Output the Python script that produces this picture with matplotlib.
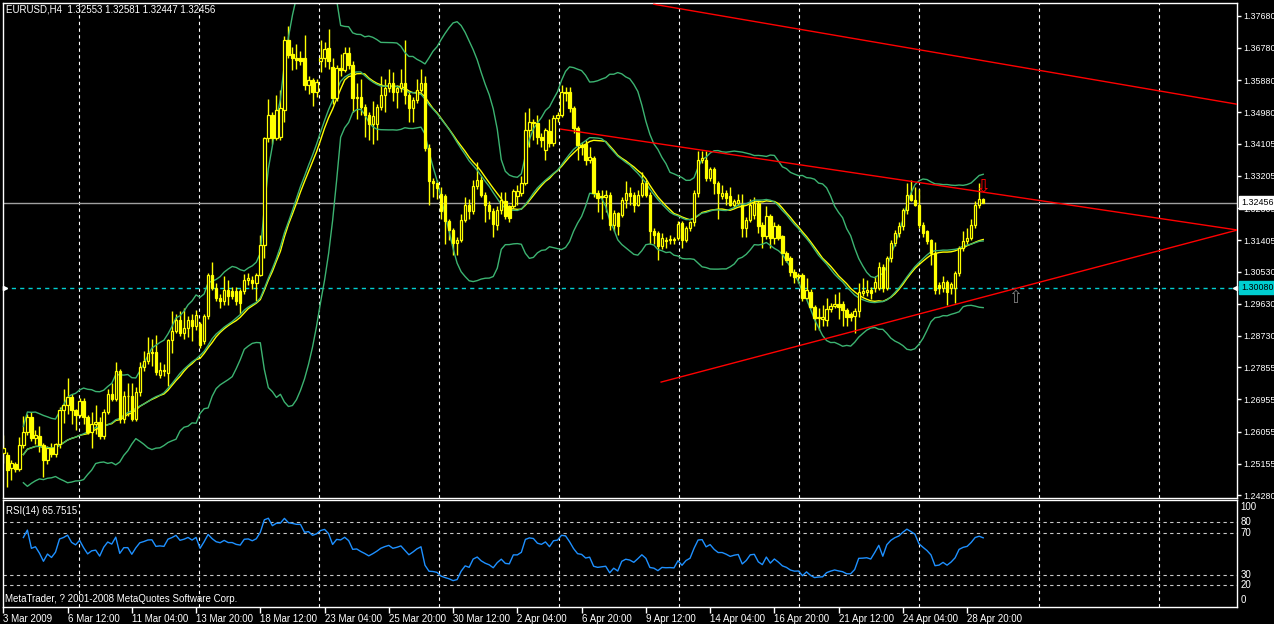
import numpy as np
import pandas as pd
import matplotlib
matplotlib.use("Agg")
import matplotlib.pyplot as plt
from matplotlib.transforms import blended_transform_factory

plt.rcParams['font.family'] = ['Liberation Sans', 'DejaVu Sans']

# EURUSD H4, 3 Mar 2009 20:00 .. 29 Apr 2009
opens = [
    1.2545, 1.2540, 1.2503, 1.2515, 1.2500, 1.2568, 1.2605, 1.2647, 1.2587, 1.2592,
    1.2568, 1.2526, 1.2561, 1.2542, 1.2570, 1.2666, 1.2680, 1.2703, 1.2666, 1.2652,
    1.2690, 1.2647, 1.2605, 1.2628, 1.2633, 1.2592, 1.2661, 1.2712, 1.2698, 1.2775,
    1.2640, 1.2705, 1.2706, 1.2640, 1.2715, 1.2785, 1.2803, 1.2826, 1.2829, 1.2764,
    1.2778, 1.2770, 1.2862, 1.2886, 1.2918, 1.2881, 1.2895, 1.2918, 1.2900, 1.2905,
    1.2860, 1.2928, 1.3044, 1.3007, 1.2979, 1.2970, 1.3002, 1.2998, 1.2998, 1.2998,
    1.2998, 1.3030, 1.3030, 1.3020, 1.3044, 1.3128, 1.3426, 1.3491, 1.3426, 1.3430,
    1.3505, 1.3700, 1.3660, 1.3651, 1.3651, 1.3650, 1.3573, 1.3587, 1.3554, 1.3640,
    1.3650, 1.3677, 1.3626, 1.3537, 1.3622, 1.3617, 1.3663, 1.3631, 1.3537, 1.3542,
    1.3514, 1.3491, 1.3464, 1.3464, 1.3514, 1.3547, 1.3566, 1.3580, 1.3556, 1.3566,
    1.3580, 1.3547, 1.3510, 1.3533, 1.3561, 1.3580, 1.3399, 1.3306, 1.3301, 1.3270,
    1.3263, 1.3194, 1.3170, 1.3133, 1.3140, 1.3198, 1.3240, 1.3221, 1.3291, 1.3310,
    1.3268, 1.3240, 1.3221, 1.3184, 1.3225, 1.3249, 1.3235, 1.3235, 1.3263, 1.3272,
    1.3300, 1.3449, 1.3472, 1.3467, 1.3430, 1.3393, 1.3445, 1.3412, 1.3482, 1.3490,
    1.3556, 1.3556, 1.3510, 1.3454, 1.3407, 1.3410, 1.3365, 1.3370, 1.3272, 1.3265,
    1.3262, 1.3268, 1.3184, 1.3216, 1.3212, 1.3254, 1.3272, 1.3268, 1.3240, 1.3268,
    1.3300, 1.3268, 1.3165, 1.3160, 1.3123, 1.3138, 1.3140, 1.3143, 1.3146, 1.3188,
    1.3142, 1.3174, 1.3190, 1.3272, 1.3365, 1.3365, 1.3314, 1.3339, 1.3300, 1.3263,
    1.3272, 1.3263, 1.3240, 1.3245, 1.3240, 1.3174, 1.3198, 1.3212, 1.3244, 1.3184,
    1.3151, 1.3207, 1.3146, 1.3179, 1.3151, 1.3104, 1.3090, 1.3053, 1.3042, 1.3042,
    1.2979, 1.2997, 1.2955, 1.2922, 1.2920, 1.2918, 1.2948, 1.2956, 1.2962, 1.2962,
    1.2946, 1.2935, 1.2929, 1.2944, 1.2993, 1.2997, 1.3002, 1.3006, 1.3006, 1.3067,
    1.3006, 1.3090, 1.3132, 1.3160, 1.3179, 1.3225, 1.3267, 1.3254, 1.3240, 1.3184,
    1.3165, 1.3140, 1.3104, 1.3016, 1.3008, 1.3025, 1.3006, 1.3006, 1.3048, 1.3118,
    1.3137, 1.3146, 1.3184, 1.3240, 1.32553,
]
highs = [
    1.2596, 1.2548, 1.2525, 1.2520, 1.2590, 1.2650, 1.2655, 1.2660, 1.2610, 1.2620,
    1.2575, 1.2565, 1.2575, 1.2575, 1.2675, 1.2725, 1.2755, 1.2710, 1.2670, 1.2700,
    1.2700, 1.2652, 1.2660, 1.2680, 1.2645, 1.2670, 1.2725, 1.2740, 1.2800, 1.2780,
    1.2720, 1.2740, 1.2740, 1.2730, 1.2800, 1.2830, 1.2870, 1.2865, 1.2875, 1.2800,
    1.2795, 1.2865, 1.2942, 1.2935, 1.2942, 1.2950, 1.2930, 1.2935, 1.2945, 1.2912,
    1.2935, 1.3050, 1.3080, 1.3020, 1.2990, 1.3040, 1.3030, 1.3010, 1.3010, 1.3005,
    1.3045, 1.3050, 1.3040, 1.3050, 1.3155, 1.3430, 1.3535, 1.3500, 1.3545, 1.3560,
    1.3712, 1.3740, 1.3680, 1.3690, 1.3670, 1.3715, 1.3600, 1.3595, 1.3590, 1.3700,
    1.3695, 1.3730, 1.3650, 1.3630, 1.3660, 1.3680, 1.3680, 1.3640, 1.3580, 1.3590,
    1.3520, 1.3500, 1.3530, 1.3520, 1.3600, 1.3590, 1.3620, 1.3610, 1.3575, 1.3620,
    1.3700, 1.3555, 1.3540, 1.3590, 1.3620, 1.3600, 1.3410, 1.3315, 1.3310, 1.3290,
    1.3270, 1.3200, 1.3175, 1.3150, 1.3215, 1.3260, 1.3255, 1.3310, 1.3360, 1.3320,
    1.3275, 1.3250, 1.3230, 1.3235, 1.3275, 1.3275, 1.3240, 1.3283, 1.3295, 1.3320,
    1.3500, 1.3510, 1.3480, 1.3490, 1.3440, 1.3455, 1.3480, 1.3490, 1.3500, 1.3575,
    1.3570, 1.3570, 1.3515, 1.3460, 1.3415, 1.3420, 1.3400, 1.3375, 1.3280, 1.3280,
    1.3280, 1.3275, 1.3225, 1.3220, 1.3262, 1.3305, 1.3290, 1.3275, 1.3280, 1.3330,
    1.3310, 1.3275, 1.3175, 1.3165, 1.3160, 1.3150, 1.3155, 1.3150, 1.3195, 1.3195,
    1.3180, 1.3195, 1.3280, 1.3390, 1.3390, 1.3390, 1.3345, 1.3345, 1.3305, 1.3295,
    1.3280, 1.3290, 1.3255, 1.3270, 1.3270, 1.3205, 1.3255, 1.3260, 1.3250, 1.3190,
    1.3235, 1.3215, 1.3190, 1.3185, 1.3155, 1.3110, 1.3095, 1.3060, 1.3050, 1.3048,
    1.3035, 1.3005, 1.2960, 1.2950, 1.2960, 1.2980, 1.2965, 1.2990, 1.2995, 1.2970,
    1.2950, 1.2940, 1.2950, 1.3020, 1.3035, 1.3030, 1.3010, 1.3040, 1.3080, 1.3075,
    1.3095, 1.3140, 1.3170, 1.3190, 1.3230, 1.3300, 1.3310, 1.3290, 1.3285, 1.3190,
    1.3170, 1.3145, 1.3135, 1.3025, 1.3040, 1.3030, 1.3025, 1.3055, 1.3125, 1.3165,
    1.3175, 1.3200, 1.3250, 1.3300, 1.32581,
]
lows = [
    1.2517, 1.2452, 1.2470, 1.2494, 1.2495, 1.2560, 1.2595, 1.2580, 1.2570, 1.2548,
    1.2480, 1.2515, 1.2535, 1.2535, 1.2560, 1.2630, 1.2655, 1.2628, 1.2610, 1.2645,
    1.2628, 1.2598, 1.2560, 1.2600, 1.2585, 1.2585, 1.2655, 1.2690, 1.2690, 1.2630,
    1.2630, 1.2650, 1.2635, 1.2635, 1.2705, 1.2775, 1.2795, 1.2790, 1.2765, 1.2755,
    1.2760, 1.2732, 1.2825, 1.2880, 1.2872, 1.2865, 1.2870, 1.2860, 1.2890, 1.2840,
    1.2850, 1.2920, 1.3000, 1.2970, 1.2950, 1.2960, 1.2960, 1.2975, 1.2960, 1.2935,
    1.2990, 1.3015, 1.3005, 1.2970, 1.3040, 1.3090, 1.3415, 1.3410, 1.3420, 1.3420,
    1.3470, 1.3650, 1.3615, 1.3620, 1.3630, 1.3560, 1.3550, 1.3515, 1.3540, 1.3610,
    1.3625, 1.3620, 1.3520, 1.3530, 1.3600, 1.3610, 1.3620, 1.3500, 1.3480, 1.3490,
    1.3430, 1.3420, 1.3410, 1.3420, 1.3505, 1.3500, 1.3555, 1.3530, 1.3510, 1.3555,
    1.3520, 1.3470, 1.3470, 1.3525, 1.3555, 1.3390, 1.3240, 1.3260, 1.3255, 1.3200,
    1.3130, 1.3140, 1.3100, 1.3100, 1.3135, 1.3190, 1.3200, 1.3215, 1.3285, 1.3260,
    1.3190, 1.3200, 1.3150, 1.3170, 1.3215, 1.3200, 1.3190, 1.3230, 1.3240, 1.3265,
    1.3295, 1.3400, 1.3420, 1.3410, 1.3400, 1.3365, 1.3400, 1.3405, 1.3470, 1.3485,
    1.3530, 1.3500, 1.3440, 1.3365, 1.3380, 1.3350, 1.3355, 1.3260, 1.3220, 1.3200,
    1.3220, 1.3170, 1.3165, 1.3155, 1.3205, 1.3230, 1.3240, 1.3220, 1.3235, 1.3260,
    1.3260, 1.3130, 1.3130, 1.3086, 1.3115, 1.3120, 1.3130, 1.3130, 1.3140, 1.3120,
    1.3135, 1.3165, 1.3180, 1.3260, 1.3355, 1.3305, 1.3305, 1.3270, 1.3200, 1.3255,
    1.3240, 1.3235, 1.3230, 1.3240, 1.3150, 1.3150, 1.3190, 1.3200, 1.3160, 1.3120,
    1.3145, 1.3120, 1.3130, 1.3140, 1.3070, 1.3080, 1.3040, 1.3020, 1.3020, 1.2970,
    1.2975, 1.2950, 1.2890, 1.2890, 1.2900, 1.2900, 1.2940, 1.2950, 1.2920, 1.2900,
    1.2900, 1.2915, 1.2880, 1.2925, 1.2985, 1.2985, 1.2975, 1.2995, 1.3000, 1.2995,
    1.3000, 1.3080, 1.3125, 1.3150, 1.3170, 1.3215, 1.3250, 1.3235, 1.3175, 1.3150,
    1.3130, 1.3070, 1.2990, 1.2990, 1.2995, 1.2960, 1.2990, 1.2965, 1.3040, 1.3110,
    1.3130, 1.3140, 1.3175, 1.3230, 1.32447,
]
closes = [
    1.2560, 1.2498, 1.2517, 1.2500, 1.2568, 1.2605, 1.2647, 1.2587, 1.2595, 1.2568,
    1.2526, 1.2561, 1.2542, 1.2570, 1.2666, 1.2680, 1.2703, 1.2666, 1.2652, 1.2690,
    1.2647, 1.2605, 1.2628, 1.2633, 1.2592, 1.2661, 1.2712, 1.2698, 1.2775, 1.2640,
    1.2705, 1.2706, 1.2640, 1.2715, 1.2785, 1.2803, 1.2826, 1.2829, 1.2772, 1.2778,
    1.2774, 1.2862, 1.2886, 1.2918, 1.2881, 1.2895, 1.2918, 1.2900, 1.2932, 1.2849,
    1.2928, 1.3044, 1.3007, 1.2979, 1.2970, 1.3002, 1.2984, 1.2984, 1.2970, 1.2965,
    1.3030, 1.3034, 1.3022, 1.3044, 1.3128, 1.3426, 1.3491, 1.3426, 1.3505, 1.3510,
    1.3700, 1.3658, 1.3651, 1.3643, 1.3642, 1.3573, 1.3587, 1.3554, 1.3583, 1.3650,
    1.3675, 1.3640, 1.3537, 1.3622, 1.3617, 1.3663, 1.3631, 1.3537, 1.3542, 1.3514,
    1.3491, 1.3464, 1.3487, 1.3514, 1.3547, 1.3566, 1.3580, 1.3556, 1.3566, 1.3580,
    1.3547, 1.3510, 1.3533, 1.3561, 1.3580, 1.3399, 1.3306, 1.3301, 1.3287, 1.3222,
    1.3194, 1.3170, 1.3133, 1.3140, 1.3198, 1.3240, 1.3221, 1.3291, 1.3310, 1.3268,
    1.3240, 1.3221, 1.3185, 1.3225, 1.3253, 1.3207, 1.3202, 1.3277, 1.3277, 1.3300,
    1.3449, 1.3472, 1.3467, 1.3430, 1.3421, 1.3449, 1.3412, 1.3482, 1.3490, 1.3556,
    1.3552, 1.3510, 1.3454, 1.3407, 1.3400, 1.3365, 1.3372, 1.3272, 1.3258, 1.3262,
    1.3266, 1.3184, 1.3216, 1.3179, 1.3254, 1.3272, 1.3263, 1.3240, 1.3268, 1.3300,
    1.3268, 1.3165, 1.3156, 1.3123, 1.3146, 1.3142, 1.3143, 1.3140, 1.3185, 1.3142,
    1.3174, 1.3190, 1.3272, 1.3365, 1.3370, 1.3314, 1.3339, 1.3300, 1.3272, 1.3272,
    1.3258, 1.3240, 1.3249, 1.3254, 1.3174, 1.3198, 1.3240, 1.3244, 1.3179, 1.3151,
    1.3207, 1.3146, 1.3179, 1.3146, 1.3104, 1.3086, 1.3053, 1.3039, 1.3040, 1.2979,
    1.3002, 1.2955, 1.2922, 1.2925, 1.2926, 1.2948, 1.2956, 1.2962, 1.2953, 1.2946,
    1.2927, 1.2927, 1.2944, 1.2997, 1.2998, 1.3000, 1.2993, 1.3025, 1.3067, 1.3006,
    1.3090, 1.3132, 1.3160, 1.3179, 1.3225, 1.3267, 1.3254, 1.3240, 1.3184, 1.3160,
    1.3137, 1.3104, 1.3002, 1.3006, 1.3025, 1.2997, 1.3018, 1.3048, 1.3118, 1.3137,
    1.3146, 1.3184, 1.3240, 1.3255, 1.32456,
]

# time axis labels, one every 16 bars
time_labels = ['3 Mar 2009', '6 Mar 12:00', '11 Mar 04:00', '13 Mar 20:00', '18 Mar 12:00',
               '23 Mar 04:00', '25 Mar 20:00', '30 Mar 12:00', '2 Apr 04:00', '6 Apr 20:00',
               '9 Apr 12:00', '14 Apr 04:00', '16 Apr 20:00', '21 Apr 12:00', '24 Apr 04:00',
               '28 Apr 20:00']
price_ticks = [1.37680, 1.36780, 1.35880, 1.34980, 1.34105, 1.33205, 1.32305, 1.31405,
               1.30530, 1.29630, 1.28730, 1.27855, 1.26955, 1.26055, 1.25155, 1.24280]
rsi_levels = [20, 30, 70, 80]

# user objects: trend lines (bar index, price), horizontal line, arrows
trend_lines = [
    [(162.0, 1.3800), (307.5, 1.3520)],
    [(138.8, 1.3451), (307.3, 1.3169)],
    [(163.8, 1.2744), (307.3, 1.3169)],
]
hline_price = 1.30080
sell_arrow = (244, 1.3290)
buy_arrow = (252, 1.2979)

W, H = 1274, 624
BG = 'black'
YEL = '#FFFF00'
GRN = '#3CB371'
FS = 7
FS_SCALE = 6.4

df = pd.DataFrame({'o': opens, 'h': highs, 'l': lows, 'c': closes})
idx = np.arange(len(df))
bid = df['c'].iloc[-1]

mid = df['c'].rolling(20, min_periods=6).mean()
sd = df['c'].rolling(20, min_periods=6).std(ddof=0)
upper = mid + 2 * sd
lower = mid - 2 * sd
ma = df['c'].rolling(21, min_periods=6).mean()

delta = df['c'].diff()
gain = delta.clip(lower=0).ewm(alpha=1 / 14, adjust=True, min_periods=5).mean()
loss = (-delta.clip(upper=0)).ewm(alpha=1 / 14, adjust=True, min_periods=5).mean()
rsi = 100 - 100 / (1 + gain / loss)

fig = plt.figure(figsize=(W / 100, H / 100), dpi=100, facecolor=BG)


def fx(px):
    return px / W


def fy(py):
    return 1 - py / H


ax = fig.add_axes([fx(2.5), fy(497.5), fx(1237 - 2.5), (497.5 - 2.5) / H], facecolor=BG)
ax2 = fig.add_axes([fx(2.5), fy(607), fx(1237 - 2.5), (607 - 500) / H], facecolor=BG)

x0, x1 = (2.5 - 3.3) / 4.016, (1237 - 3.3) / 4.016
for a in (ax, ax2):
    a.set_xlim(x0, x1)
    for s in a.spines.values():
        s.set_color('white')
        s.set_linewidth(1)

# price scale: y pixel -> price
ax.set_ylim(1.37680 - (497.5 - 15.7) * 0.0002795, 1.37680 - (2.5 - 15.7) * 0.0002795)

# grid (vertical dashed lines every 120 px)
grid_x = (np.arange(79.3, 1237, 120) - 3.3) / 4.016
for a in (ax, ax2):
    for g in grid_x:
        a.axvline(g, color='white', lw=0.8, ls=(0, (3, 3)), zorder=0.5)

# candles
bull = df['c'] >= df['o']
ax.vlines(idx, df['l'], df['h'], color=YEL, lw=1, zorder=2)
body_lo = np.minimum(df['o'], df['c'])
body_h = np.maximum(np.abs(df['c'] - df['o']), 0.00004)
ax.bar(idx[bull], body_h[bull], bottom=body_lo[bull], width=0.6,
       facecolor=BG, edgecolor=YEL, lw=0.9, zorder=3)
ax.bar(idx[~bull], body_h[~bull], bottom=body_lo[~bull], width=0.6,
       facecolor=YEL, edgecolor=YEL, lw=0.9, zorder=3)

# indicators
ax.plot(idx, upper, color=GRN, lw=1, zorder=2.5)
ax.plot(idx, lower, color=GRN, lw=1, zorder=2.5)
ax.plot(idx, ma, color=YEL, lw=1, zorder=2.4)
ax.plot(idx, mid, color=GRN, lw=1, zorder=2.5)

# trend lines
for (xa, pa), (xb, pb) in trend_lines:
    ax.plot([xa, xb], [pa, pb], color='red', lw=1, zorder=4)

ax.axhline(bid, color='#A0A0A0', lw=1, zorder=1)
ax.axhline(hline_price, color='#00CED1', lw=1, ls=(0, (3, 3)), zorder=1)
ax.plot([0.3], [hline_price], marker='>', ms=3, color='white', zorder=5, clip_on=False)
ax.plot([x1 - 0.6], [hline_price], marker='<', ms=3, color='white', zorder=5, clip_on=False)

ax.text(sell_arrow[0], sell_arrow[1], '\u21e9', color='red', fontsize=13, family='DejaVu Sans',
        ha='center', va='center', zorder=6)
ax.text(buy_arrow[0], buy_arrow[1], '\u21e7', color='#808080', fontsize=12, family='DejaVu Sans',
        ha='center', va='center', zorder=6)

# right price scale
ax.yaxis.tick_right()
ax.set_yticks(price_ticks)
ax.set_yticklabels(['%.5f' % p for p in price_ticks])
ax.tick_params(axis='y', colors='white', labelcolor='white', labelsize=FS_SCALE,
               length=3, width=1, pad=1.2, direction='out')
ax.set_xticks([])

trans = blended_transform_factory(ax.transAxes, ax.transData)
ax.text(1.0035, bid, '%.5f' % bid, transform=trans, color='black', fontsize=FS_SCALE,
        ha='left', va='center', zorder=10, clip_on=False,
        bbox=dict(boxstyle='square,pad=0.25', fc='white', ec='white'))
ax.text(1.0035, hline_price, '%.5f' % hline_price, transform=trans, color='black',
        fontsize=FS_SCALE, ha='left', va='center', zorder=10, clip_on=False,
        bbox=dict(boxstyle='square,pad=0.25', fc='#00CED1', ec='#00CED1'))

# RSI panel
ax2.set_ylim(-0.67, 101.2)
ax2.plot(idx, rsi, color='#1E90FF', lw=1, zorder=3)
for lv in rsi_levels:
    ax2.axhline(lv, color='#C8C8C8', lw=0.8, ls=(0, (3, 3)), zorder=1)
ax2.set_yticks([])
ax2.set_xticks(idx[::16][:len(time_labels)])
ax2.set_xticklabels(time_labels, ha='left')
ax2.tick_params(axis='x', colors='white', labelcolor='white', labelsize=FS,
                length=4, width=1, pad=1, direction='out')

trans2 = blended_transform_factory(ax2.transAxes, ax2.transData)
for lv in rsi_levels:
    ax2.text(1.003, lv, str(lv), transform=trans2, color='white', fontsize=FS,
             ha='left', va='center', clip_on=False)
ax2.text(1.003, 99, '100', transform=trans2, color='white', fontsize=FS,
         ha='left', va='top', clip_on=False)
ax2.text(1.003, 1, '0', transform=trans2, color='white', fontsize=FS,
         ha='left', va='bottom', clip_on=False)

fig.text(fx(6), fy(9), 'EURUSD,H4  %.5f %.5f %.5f %.5f' % tuple(df.iloc[-1][['o', 'h', 'l', 'c']]),
         color='white', fontsize=FS, va='center', ha='left')
fig.text(fx(6), fy(511), 'RSI(14) 65.7515', color='white', fontsize=FS, va='center', ha='left')
fig.text(fx(5), fy(599), 'MetaTrader, ? 2001-2008 MetaQuotes Software Corp.', color='white',
         fontsize=FS, va='center', ha='left')

fig.savefig('out.png', dpi=100, facecolor=BG)
